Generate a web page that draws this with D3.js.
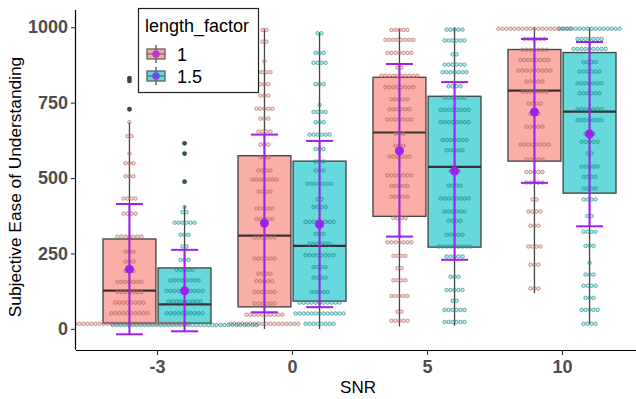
<!DOCTYPE html>
<html>
<head>
<meta charset="utf-8">
<script src="https://cdn.jsdelivr.net/npm/d3@7"></script>
<style>
  html, body { margin: 0; padding: 0; background: #fff; }
  svg { display: block; font-family: "Liberation Sans", Arial, sans-serif; }
</style>
</head>
<body>
<div id="chart"></div>
<script>
// ---------------------------------------------------------------------------
// Boxplot + centred dotplot + mean/error bar, SNR x length_factor
// ---------------------------------------------------------------------------

const snrLevels = ['-3', '0', '5', '10'];
const lengthFactors = ['1', '1.5'];
const yTicks = [0, 250, 500, 750, 1000];

// [lower whisker, q1, median, q3, upper whisker] per SNR level
const boxes1 = [[0, 19, 127, 298, 684], [0, 73, 309, 574, 995], [8, 373, 651, 834, 995], [118, 556, 790, 926, 1000]];
const boxes15 = [[0, 19, 81, 202, 408], [0, 92, 275, 556, 983], [10, 271, 537, 771, 1000], [16, 450, 720, 916, 1000]];

// [mean, error bar low, error bar high] per SNR level
const means1 = [[198, -18, 414], [351, 55, 644], [590, 306, 878], [719, 484, 961]];
const means15 = [[126, -8, 262], [347, 72, 623], [523, 229, 818], [646, 340, 951]];

// outliers per SNR level
const outliers1 = [[831, 822, 728], [], [], []];
const outliers15 = [[615, 581, 488], [], [], []];

// dotplot rows: [value, number of dots]
const dotsM3_1 = [[685, 1], [639, 2], [581, 1], [549, 3], [506, 3], [432, 4], [382, 4], [306, 7], [256, 3], [223, 3], [192, 3], [156, 7], [122, 7], [87, 8], [52, 10], [17, 30]];
const dotsM3_15 = [[404, 1], [387, 2], [352, 6], [312, 3], [273, 2], [229, 3], [196, 5], [161, 8], [126, 10], [91, 9], [52, 10], [13, 37]];
const dots0_1 = [[991, 2], [952, 2], [887, 1], [851, 4], [811, 3], [773, 3], [730, 5], [697, 3], [654, 4], [611, 3], [569, 3], [525, 4], [495, 7], [455, 4], [399, 5], [364, 5], [303, 6], [233, 6], [183, 4], [158, 5], [122, 6], [84, 6], [47, 10], [17, 18]];
const dots0_15 = [[980, 2], [915, 3], [882, 4], [811, 3], [742, 1], [719, 4], [685, 3], [644, 6], [596, 3], [555, 3], [525, 3], [481, 7], [430, 2], [404, 4], [355, 8], [315, 3], [282, 6], [244, 8], [205, 4], [170, 4], [122, 5], [87, 11], [51, 13], [17, 8]];
const dots5_1 = [[991, 5], [958, 8], [915, 7], [866, 2], [839, 10], [801, 8], [761, 5], [728, 6], [694, 7], [647, 3], [607, 3], [571, 6], [509, 7], [474, 5], [438, 5], [367, 4], [306, 1], [287, 7], [242, 4], [201, 2], [161, 4], [109, 5], [57, 2], [27, 5]];
const dots5_15 = [[992, 5], [956, 6], [910, 2], [876, 6], [851, 7], [804, 4], [766, 6], [726, 8], [685, 8], [626, 7], [592, 5], [523, 3], [475, 4], [432, 8], [389, 6], [358, 4], [312, 5], [273, 9], [240, 5], [173, 3], [129, 5], [93, 2], [63, 6], [23, 6]];
const dots10_1 = [[995, 19], [961, 6], [925, 7], [891, 8], [856, 9], [820, 5], [786, 7], [747, 4], [713, 3], [670, 5], [611, 8], [561, 5], [520, 5], [485, 5], [429, 2], [389, 4], [342, 3], [273, 4], [213, 3], [134, 3]];
const dots10_15 = [[995, 16], [961, 7], [928, 9], [884, 4], [853, 6], [814, 7], [781, 6], [728, 7], [692, 7], [647, 3], [620, 5], [582, 2], [538, 5], [504, 4], [465, 4], [429, 4], [374, 2], [322, 4], [275, 3], [219, 1], [180, 3], [143, 4], [103, 3], [63, 5], [17, 4]];

const dotRows = {
  '1': [dotsM3_1, dots0_1, dots5_1, dots10_1],
  '1.5': [dotsM3_15, dots0_15, dots5_15, dots10_15],
};

const width = 636;
const height = 399;
const margin = { top: 10, right: 0, bottom: 49, left: 76 };

const fills = { '1': '#F8766D', '1.5': '#00BFC4' };
const dotStroke = { '1': '#A86A66', '1.5': '#2E8587' };
const purple = '#A020F0';
const tickGrey = '#4D4D4D';

const x = d3.scalePoint().domain(snrLevels).range([margin.left, 643]).padding(0.6);
const dodge = d3.scaleBand().domain(lengthFactors).range([-54, 54]).paddingInner(0.04);
const y = d3.scaleLinear().domain([-70, 1057]).range([height - margin.bottom, margin.top]);

const svg = d3.select('#chart').append('svg')
  .attr('width', width).attr('height', height)
  .attr('viewBox', `0 0 ${width} ${height}`);

const plot = svg.append('g');
const clip = svg.append('clipPath').attr('id', 'panel');
clip.append('rect').attr('x', margin.left).attr('y', margin.top)
  .attr('width', width - margin.left).attr('height', height - margin.bottom - margin.top);
plot.attr('clip-path', 'url(#panel)');

const series = [
  { lf: '1', boxes: boxes1, means: means1, outliers: outliers1 },
  { lf: '1.5', boxes: boxes15, means: means15, outliers: outliers15 },
];

const bw = dodge.bandwidth();
const dotR = 1.75;
const dotStep = 4;

// boxes, whiskers and outliers
series.forEach((s) => {
  snrLevels.forEach((lvl, i) => {
    const cx = x(lvl) + dodge(s.lf) + bw / 2;
    const [lo, q1, med, q3, hi] = s.boxes[i];
    plot.append('line')
      .attr('x1', cx).attr('x2', cx).attr('y1', y(lo)).attr('y2', y(hi))
      .attr('stroke', '#444').attr('stroke-width', 1.3);
    plot.append('rect')
      .attr('x', cx - bw / 2).attr('width', bw)
      .attr('y', y(q3)).attr('height', y(q1) - y(q3))
      .attr('fill', fills[s.lf]).attr('fill-opacity', 0.6)
      .attr('stroke', '#4a4a4a').attr('stroke-width', 1.4);
    plot.append('line')
      .attr('x1', cx - bw / 2).attr('x2', cx + bw / 2).attr('y1', y(med)).attr('y2', y(med))
      .attr('stroke', '#333').attr('stroke-width', 2.2);
    plot.selectAll(null)
      .data(s.outliers[i])
      .join('circle')
      .attr('cx', cx).attr('cy', (d) => y(d)).attr('r', 2.4)
      .attr('fill', s.lf === '1' ? '#4a3f3f' : '#2f5454');
  });
});

// dotplot
series.forEach((s) => {
  snrLevels.forEach((lvl, i) => {
    const cx = x(lvl) + dodge(s.lf) + bw / 2;
    const pts = [];
    dotRows[s.lf][i].forEach(([v, n]) => {
      for (let k = 0; k < n; k++) pts.push({ v, off: (k - (n - 1) / 2) * dotStep });
    });
    plot.append('g').selectAll('circle')
      .data(pts)
      .join('circle')
      .attr('cx', (d) => cx + d.off).attr('cy', (d) => y(d.v)).attr('r', dotR)
      .attr('fill', fills[s.lf]).attr('fill-opacity', 0.25)
      .attr('stroke', dotStroke[s.lf]).attr('stroke-opacity', 0.8).attr('stroke-width', 0.85);
  });
});

// mean +/- error bars
series.forEach((s) => {
  snrLevels.forEach((lvl, i) => {
    const cx = x(lvl) + dodge(s.lf) + bw / 2;
    const [m, lo, hi] = s.means[i];
    const cap = 13.5;
    const g = plot.append('g').attr('stroke', purple).attr('stroke-width', 2);
    g.append('line').attr('x1', cx).attr('x2', cx).attr('y1', y(lo)).attr('y2', y(hi));
    g.append('line').attr('x1', cx - cap).attr('x2', cx + cap).attr('y1', y(lo)).attr('y2', y(lo));
    g.append('line').attr('x1', cx - cap).attr('x2', cx + cap).attr('y1', y(hi)).attr('y2', y(hi));
    plot.append('circle').attr('cx', cx).attr('cy', y(m)).attr('r', 4.5).attr('fill', purple);
  });
});

// axes
const axisY = svg.append('g').attr('transform', `translate(${margin.left},0)`)
  .call(d3.axisLeft(y).tickValues(yTicks).tickFormat(d3.format('d')).tickSize(5).tickPadding(3).tickSizeOuter(0));
const axisX = svg.append('g').attr('transform', `translate(0,${height - margin.bottom})`)
  .call(d3.axisBottom(x).tickSize(5).tickPadding(5).tickSizeOuter(0));

[axisY, axisX].forEach((a) => {
  a.select('.domain').attr('stroke', '#000').attr('stroke-width', 1.2);
  a.selectAll('.tick line').attr('stroke', '#333').attr('stroke-width', 1.1);
  a.selectAll('.tick text')
    .attr('fill', tickGrey).style('font-size', '18px').style('font-weight', 'bold')
    .style('font-family', '"Liberation Sans", Arial, sans-serif');
});
axisX.select('.domain').attr('d', `M${margin.left},0.5H${width}`);
axisY.select('.domain').attr('d', `M-0.5,${margin.top}V${height - margin.bottom}`);

svg.append('text')
  .attr('x', 358).attr('y', 393)
  .attr('text-anchor', 'middle')
  .style('font-size', '17px')
  .text('SNR');

svg.append('text')
  .attr('transform', 'translate(21,187) rotate(-90)')
  .attr('text-anchor', 'middle')
  .style('font-size', '17.3px')
  .text('Subjective Ease of Understanding');

// legend
const legend = svg.append('g');
legend.append('rect')
  .attr('x', 138.5).attr('y', 8.5).attr('width', 120).attr('height', 84)
  .attr('fill', '#fff').attr('stroke', '#222').attr('stroke-width', 1.2);
legend.append('text')
  .attr('x', 145).attr('y', 32)
  .style('font-size', '18px')
  .text('length_factor');

const keyDot = { '1': '#B43CC6', '1.5': '#6A50E0' };
lengthFactors.forEach((lf, i) => {
  const cy = 54 + i * 22;
  const kx = 156;
  legend.append('line').attr('x1', kx).attr('x2', kx).attr('y1', cy - 9).attr('y2', cy + 9)
    .attr('stroke', '#444').attr('stroke-width', 1.2);
  legend.append('rect').attr('x', kx - 9).attr('y', cy - 5).attr('width', 18).attr('height', 10)
    .attr('fill', fills[lf]).attr('fill-opacity', 0.6).attr('stroke', '#555').attr('stroke-width', 1.2);
  legend.append('line').attr('x1', kx - 9).attr('x2', kx + 9).attr('y1', cy).attr('y2', cy)
    .attr('stroke', '#555').attr('stroke-width', 1);
  legend.append('circle').attr('cx', kx).attr('cy', cy).attr('r', 3.8).attr('fill', keyDot[lf]);
  legend.append('text').attr('x', 177).attr('y', cy + 6.5)
    .style('font-size', '18px').text(lf);
});
</script>
</body>
</html>
